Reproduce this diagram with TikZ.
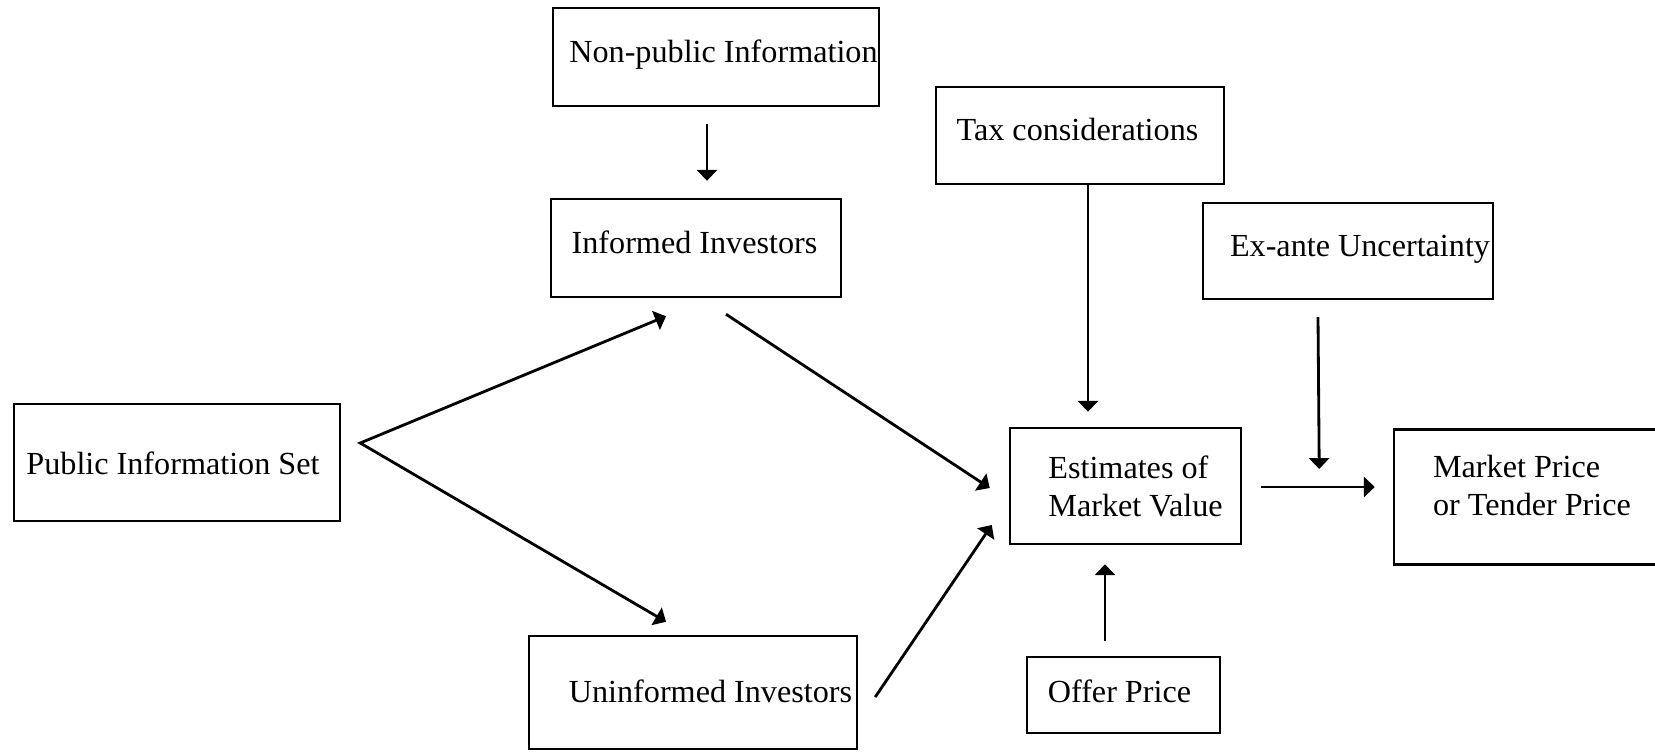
\documentclass[tikz,border=0pt]{standalone}
\usepackage{fontspec}
\setmainfont{Liberation Serif}
\usetikzlibrary{arrows.meta,calc}
\newlength{\pxlength}
\setlength{\pxlength}{0.01cm}

\begin{document}
\begin{tikzpicture}[x=1\pxlength,y=-1\pxlength,font=\fontsize{9.15}{10.8}\selectfont,>={Triangle[length=3.1pt,width=5.7pt]},box/.style n args={2}{draw,rectangle,line width=0.7pt,minimum width=#1\pxlength,minimum height=#2\pxlength,inner sep=0pt},oneline/.style={text height=#1pt,text depth=3.5pt},arr/.style={->,line width=0.8pt}]
\useasboundingbox (0,0) rectangle (1655,751);
\clip (0,0) rectangle (1655,751);
\foreach \n/\x/\y/\w/\h/\d/\th/\t in %
{npi/716/57/326/98/15/6.5/Non-public Information,
 inf/696/248/290/98/-3/6.5/Informed Investors,
 tax/1080/135.5/288/97/-5/6.5/Tax considerations,
 exa/1348/251/290/96/24/6.5/Ex-ante Uncertainty,
 pub/177/462.5/326/117/-8/10.2/Public Information Set,
 uninf/693/692.5/328/113/35/8.9/Uninformed Investors,
 offer/1123.5/695/193/76/-8/7.5/Offer Price} {
   \node[box={\w}{\h},oneline=\th] (\n) at (\x,\y) {\hspace*{\d\pxlength}\t};
}
\node[box={231}{116},align=left] (est) at (1125.5,486) {\hspace*{20\pxlength}Estimates of\\\hspace*{20\pxlength}Market Value};
\node[box={276}{135},align=left,text depth=6.5pt] (mkt) at (1532,497) {Market Price\\or Tender Price};
\coordinate (fork) at ($(pub.east)+(19,-19.5)$);
\draw[arr] ($(npi.south)+(-9,17)$) -- ($(inf.north)+(11,-17)$);
\draw[arr,<->] ($(inf.south)+(-30,18)$) -- (fork) -- ($(uninf.north)+(-27,-13)$);
\draw[arr] ($(inf.south)+(30,16)$) -- ($(est.west)+(-19,2)$);
\draw[arr] ($(uninf.east)+(17,4.5)$) -- ($(est.west)+(-17,39)$);
\draw[arr] ($(tax.south)+(8,0)$) -- ($(est.north)+(-37.5,-15)$);
\draw[arr] ($(exa.south)+(-30,17)$) -- ($(est.east)+(77,-17)$);
\draw[arr] ($(est.east)+(19,1)$) -- ($(mkt.west)+(-18,-10)$);
\draw[arr] ($(offer.north)+(-18.5,-15)$) -- ($(est.south)+(-20.5,19)$);
\end{tikzpicture}
\end{document}
